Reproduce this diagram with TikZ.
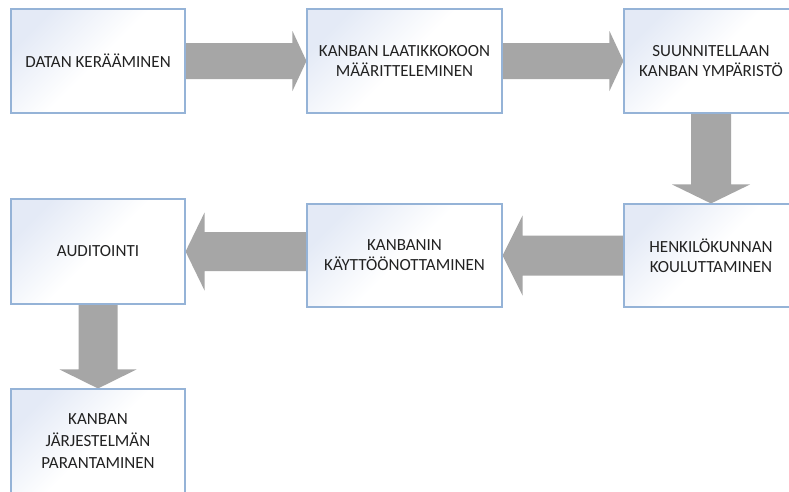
\documentclass[tikz,border=0pt]{standalone}
\usepackage{fontspec}
\setmainfont{Carlito}
\usetikzlibrary{calc,backgrounds}

\definecolor{boxline}{HTML}{95B3D7}
\definecolor{boxtint}{HTML}{E4EAF6}
\definecolor{arrowgray}{HTML}{A6A6A6}
\definecolor{textdark}{HTML}{222222}

\tikzset{
  stage/.style={rectangle, draw=boxline, line width=1.1pt, inner sep=0pt,
    align=center, text=textdark, font=\fontsize{17}{20}\selectfont,
    top color=boxtint, bottom color=white, middle color=white, shading angle=45},
  narrowstage/.style={stage, minimum width=174pt, minimum height=104pt},
  widestage/.style={stage, minimum width=195pt, minimum height=103pt},
  flow/.style={fill=arrowgray, draw=none},
}

% block arrow along x: tail, tip, direction (+1 right, -1 left), shaft half, head half, head length
\newcommand{\flowx}[6]{%
  \fill[flow] ($(#1)+(0,-#4)$) -- ($(#2)+({-(#3)*(#6)},-#4)$) -- ($(#2)+({-(#3)*(#6)},-#5)$)
    -- (#2) -- ($(#2)+({-(#3)*(#6)},#5)$) -- ($(#2)+({-(#3)*(#6)},#4)$) -- ($(#1)+(0,#4)$) -- cycle;}
% block arrow pointing down: tail, tip, shaft half, head half, head length
\newcommand{\flowdown}[5]{%
  \fill[flow] ($(#1)+(-#3,0)$) -- ($(#2)+(-#3,-#5)$) -- ($(#2)+(-#4,-#5)$)
    -- (#2) -- ($(#2)+(#4,-#5)$) -- ($(#2)+(#3,-#5)$) -- ($(#1)+(#3,0)$) -- cycle;}

\begin{document}
\begin{tikzpicture}[x=1pt, y=-1pt]
  \useasboundingbox (0,0) rectangle (789,491);
  \clip (0,0) rectangle (789,491);

  % process steps
  \node[narrowstage] (b1) at (98,61)    {DATAN KERÄÄMINEN};
  \node[widestage, minimum height=104pt] (b2) at (404.5,61) {KANBAN LAATIKKOKOON\\MÄÄRITTELEMINEN};
  \node[narrowstage] (b3) at (711,61)   {SUUNNITELLAAN\\KANBAN YMPÄRISTÖ};
  \node[narrowstage, minimum height=103pt] (hk) at (711,255.5) {HENKILÖKUNNAN\\KOULUTTAMINEN};
  \node[widestage] (kb) at (404.5,255.5) {KANBANIN\\KÄYTTÖÖNOTTAMINEN};
  \node[narrowstage, minimum height=105pt] (au) at (98,251.5) {AUDITOINTI};
  \node[narrowstage, minimum height=105pt, font=\fontsize{17}{22}\selectfont] (kj) at (98,441.5)
    {KANBAN\\JÄRJESTELMÄN\\PARANTAMINEN};

  % connecting block arrows, behind the boxes on a white page
  \begin{pgfonlayer}{background}
    \fill[white] (0,0) rectangle (789,491);
    \flowx{b1.east}{b2.west}{1}{18}{30}{14}
    \flowx{b2.east}{b3.west}{1}{18}{30}{14}
    \flowdown{b3.south}{hk.north}{20}{39}{19}
    \flowx{hk.west}{kb.east}{-1}{20}{40}{20}
    \flowx{kb.west |- au.east}{au.east}{-1}{19.5}{39}{19}
    \flowdown{au.south}{kj.north}{19.5}{38.5}{19}
  \end{pgfonlayer}
\end{tikzpicture}
\end{document}
